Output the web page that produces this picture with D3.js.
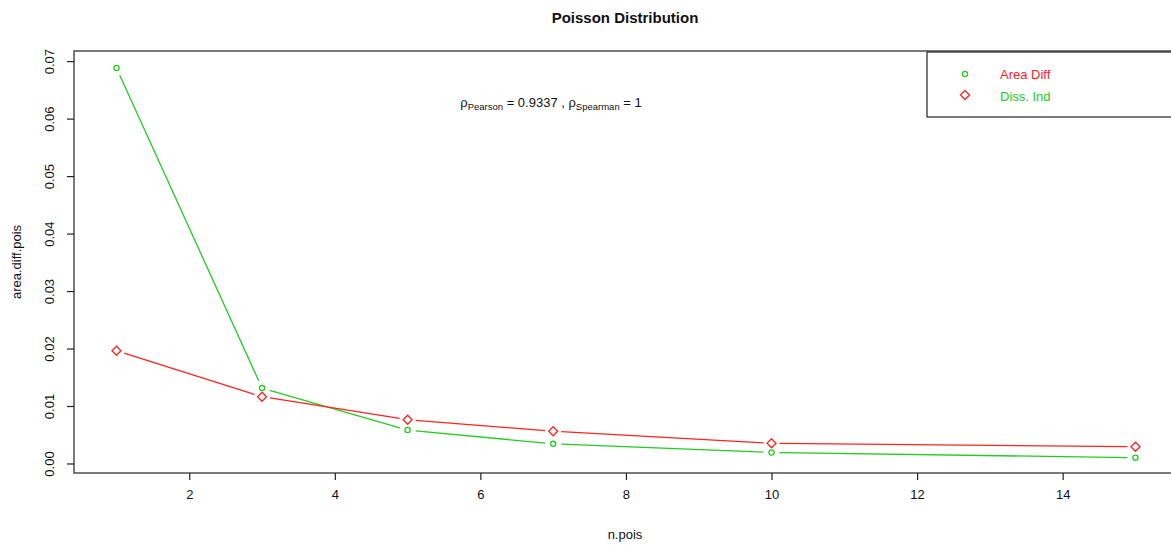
<!DOCTYPE html>
<html>
<head>
<meta charset="utf-8">
<script src="https://cdn.jsdelivr.net/npm/d3@7"></script>
<style>
  body { margin: 0; background: #fff; }
  svg { display: block; font-family: "Liberation Sans", Arial, sans-serif; }
</style>
</head>
<body>
<svg id="chart" width="1171" height="546"></svg>
<script>
// Sample sizes and the two comparison measures
const nPois = [1, 3, 5, 7, 10, 15];
const areaDiff = [0.0689, 0.0132, 0.0059, 0.0035, 0.0020, 0.0011];
const dissInd = [0.0197, 0.0117, 0.0077, 0.0057, 0.0036, 0.0030];
const xTicks = [2, 4, 6, 8, 10, 12, 14];
const yTicks = [0.00, 0.01, 0.02, 0.03, 0.04, 0.05, 0.06, 0.07];
const legendLabels = ["Area Diff", "Diss. Ind"];

const green = "#22cc22";
const red = "#ff2222";

const svg = d3.select("#chart");
const plotLeft = 74, plotRight = 1180, plotTop = 51, plotBottom = 473;

// R-style 4% padding on the data ranges
const x = d3.scaleLinear().domain([0.44, 15.56]).range([75.7, 1176.2]);
const y = d3.scaleLinear().domain([-0.00157, 0.07185]).range([plotBottom, plotTop]);

// plot frame
svg.append("rect")
  .attr("x", plotLeft).attr("y", plotTop)
  .attr("width", plotRight - plotLeft).attr("height", plotBottom - plotTop)
  .attr("fill", "none").attr("stroke", "#222").attr("stroke-width", 1.2);

// axes
const xAxis = svg.append("g")
  .attr("transform", `translate(0,${plotBottom})`)
  .call(d3.axisBottom(x).tickValues(xTicks).tickSize(7).tickPadding(10).tickFormat(d3.format("d")));
const yAxis = svg.append("g")
  .attr("transform", `translate(${plotLeft},0)`)
  .call(d3.axisLeft(y).tickValues(yTicks).tickSize(7).tickFormat(d3.format(".2f")));
[xAxis, yAxis].forEach(g => {
  g.select(".domain").remove();
  g.selectAll("line").attr("stroke", "#222").attr("stroke-width", 1.2);
  g.selectAll("text").attr("fill", "#111").style("font-size", "13px");
});
yAxis.selectAll(".tick").attr("transform", null);
yAxis.selectAll(".tick line").attr("y1", d => y(d)).attr("y2", d => y(d));
yAxis.selectAll(".tick text")
  .attr("text-anchor", "middle")
  .attr("transform", d => `translate(${-25},${y(d)}) rotate(-90)`)
  .attr("x", 0).attr("y", 0).attr("dy", "0.35em");

// titles
svg.append("text").attr("x", 625).attr("y", 23).attr("text-anchor", "middle")
  .style("font-size", "15px").style("font-weight", "bold").attr("fill", "#111")
  .text("Poisson Distribution");
svg.append("text").attr("x", 625).attr("y", 539).attr("text-anchor", "middle")
  .style("font-size", "13px").attr("fill", "#111").text("n.pois");
svg.append("text").attr("transform", "translate(21,262) rotate(-90)").attr("text-anchor", "middle")
  .style("font-size", "13px").attr("fill", "#111").text("area.diff.pois");

// correlation annotation
const ann = svg.append("text").attr("x", 551).attr("y", 107).attr("text-anchor", "middle")
  .style("font-size", "13px").attr("fill", "#111");
ann.append("tspan").text("ρ");
ann.append("tspan").attr("dy", 3).style("font-size", "9.5px").text("Pearson");
ann.append("tspan").attr("dy", -3).text(" = 0.9337 , ρ");
ann.append("tspan").attr("dy", 3).style("font-size", "9.5px").text("Spearman");
ann.append("tspan").attr("dy", -3).text(" = 1");

// lines with gaps around the points (type = "b")
function gappedSegments(vals, gap) {
  const segs = [];
  for (let i = 0; i < vals.length - 1; i++) {
    const x0 = x(nPois[i]), y0 = y(vals[i]), x1 = x(nPois[i + 1]), y1 = y(vals[i + 1]);
    const len = Math.hypot(x1 - x0, y1 - y0);
    if (len <= 2 * gap) continue;
    const ux = (x1 - x0) / len, uy = (y1 - y0) / len;
    segs.push([x0 + ux * gap, y0 + uy * gap, x1 - ux * gap, y1 - uy * gap]);
  }
  return segs;
}
function drawSeries(vals, color) {
  svg.append("g").selectAll("line").data(gappedSegments(vals, 8)).join("line")
    .attr("x1", d => d[0]).attr("y1", d => d[1]).attr("x2", d => d[2]).attr("y2", d => d[3])
    .attr("stroke", color).attr("stroke-width", 1.3);
}
drawSeries(areaDiff, green);
drawSeries(dissInd, red);

const diamond = (cx, cy, r) => `M${cx},${cy - r}L${cx + r},${cy}L${cx},${cy + r}L${cx - r},${cy}Z`;

svg.append("g").selectAll("circle").data(areaDiff).join("circle")
  .attr("cx", (d, i) => x(nPois[i])).attr("cy", d => y(d)).attr("r", 2.6)
  .attr("fill", "none").attr("stroke", green).attr("stroke-width", 1.3);
svg.append("g").selectAll("path").data(dissInd).join("path")
  .attr("d", (d, i) => diamond(x(nPois[i]), y(d), 4.5))
  .attr("fill", "none").attr("stroke", red).attr("stroke-width", 1.3);

// legend
const lg = svg.append("g");
lg.append("rect").attr("x", 927).attr("y", 52).attr("width", 260).attr("height", 65)
  .attr("fill", "#fff").attr("stroke", "#222").attr("stroke-width", 1.2);
lg.append("circle").attr("cx", 965).attr("cy", 74).attr("r", 2.6)
  .attr("fill", "none").attr("stroke", green).attr("stroke-width", 1.3);
lg.append("path").attr("d", diamond(965, 95, 4.5))
  .attr("fill", "none").attr("stroke", red).attr("stroke-width", 1.3);
lg.append("text").attr("x", 1000).attr("y", 78.5).style("font-size", "13px").attr("fill", red).text(legendLabels[0]);
lg.append("text").attr("x", 1000).attr("y", 100.5).style("font-size", "13px").attr("fill", green).text(legendLabels[1]);
</script>
</body>
</html>
